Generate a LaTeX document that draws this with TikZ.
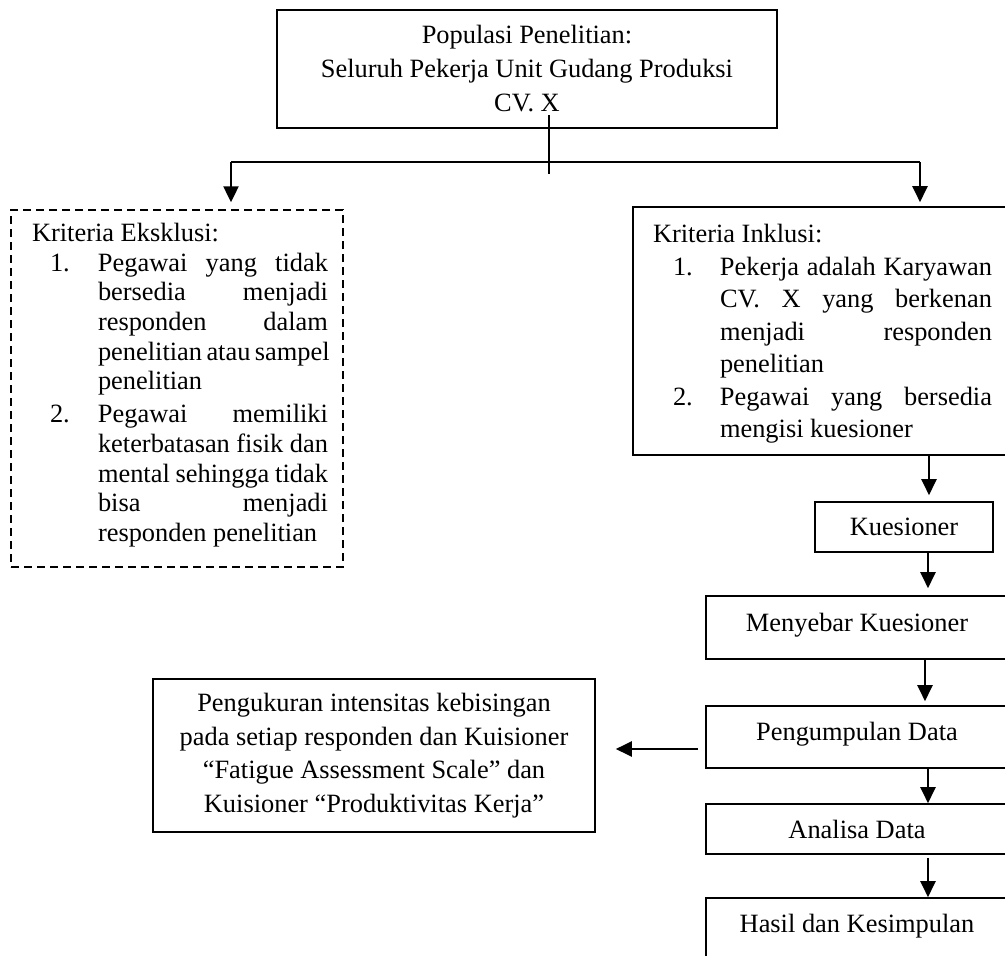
\documentclass[tikz,border=0pt]{standalone}
\usepackage{fontspec}
\setmainfont{Liberation Serif}
\usetikzlibrary{arrows.meta}
\newcommand{\jline}[2]{\makebox[#1][s]{\spaceskip=0pt\xspaceskip=0pt #2}}
\begin{document}
\begin{tikzpicture}[x=1pt,y=-1pt,
  box/.style={draw, line width=1.6pt, inner sep=0pt, font=\fontsize{26.4}{34}\selectfont},
  dashbox/.style={box, dash pattern=on 8pt off 5pt, line width=1.4pt},
  arr/.style={line width=2.2pt, -{Triangle[length=16pt,width=15pt]}},
  conn/.style={line width=1.5pt}]
\useasboundingbox (0,0) rectangle (1005,956);
\clip (0,0) rectangle (1005,956);

\node[box, minimum width=500pt, minimum height=118pt, align=center] (pop) at (527,69)
  {Populasi Penelitian:\\Seluruh Pekerja Unit Gudang Produksi\\CV.\ X};

\node[dashbox, minimum width=332pt, minimum height=357pt, text width=314pt, align=left,
  font=\fontsize{26.4}{29.7}\selectfont] (exc) at (177,388.5)
  {\spaceskip=0pt\xspaceskip=0pt
   \hspace*{12pt}Kriteria Eksklusi:\\
   \hspace*{30pt}\makebox[48pt][l]{1.}\jline{230pt}{Pegawai yang tidak}\\
   \hspace*{78pt}\jline{230pt}{bersedia menjadi}\\
   \hspace*{78pt}\jline{230pt}{responden dalam}\\
   \hspace*{78pt}\jline{230pt}{penelitian atau sampel}\\
   \hspace*{78pt}penelitian\\[3pt]
   \hspace*{30pt}\makebox[48pt][l]{2.}\jline{230pt}{Pegawai memiliki}\\
   \hspace*{78pt}\jline{230pt}{keterbatasan fisik dan}\\
   \hspace*{78pt}\jline{230pt}{mental sehingga tidak}\\
   \hspace*{78pt}\jline{230pt}{bisa menjadi}\\
   \hspace*{78pt}responden penelitian\rule[-12.5pt]{0pt}{1pt}};

\node[box, minimum width=379pt, minimum height=248pt, text width=339pt, align=left,
  font=\fontsize{26.4}{32.5}\selectfont] (inc) at (822.5,331)
  {\spaceskip=0pt\xspaceskip=0pt
   \rule{0pt}{24pt}Kriteria Inklusi:\\
   \hspace*{20pt}\makebox[47pt][l]{1.}\jline{272pt}{Pekerja adalah Karyawan}\\
   \hspace*{67pt}\jline{272pt}{CV.\ X yang berkenan}\\
   \hspace*{67pt}\jline{272pt}{menjadi responden}\\
   \hspace*{67pt}penelitian\\
   \hspace*{20pt}\makebox[47pt][l]{2.}\jline{272pt}{Pegawai yang bersedia}\\
   \hspace*{67pt}mengisi kuesioner};

\node[box, minimum width=178pt, minimum height=50pt] (kue) at (904,527) {Kuesioner};
\node[box, minimum width=302pt, minimum height=63pt, text depth=11pt] (meny) at (857,627.5) {Menyebar Kuesioner};
\node[box, minimum width=302pt, minimum height=62pt, text depth=12pt] (peng) at (857,737) {Pengumpulan Data};
\node[box, minimum width=302pt, minimum height=50pt] (ana) at (857,829) {Analisa Data};
\node[box, minimum width=302pt, minimum height=62pt, text depth=12pt] (has) at (857,929) {Hasil dan Kesimpulan};

\node[box, minimum width=442pt, minimum height=153pt, align=center,
  font=\fontsize{26.4}{33.5}\selectfont] (ukur) at (374,755.5)
  {Pengukuran intensitas kebisingan\\pada setiap responden dan Kuisioner\\“Fatigue Assessment Scale” dan\\Kuisioner “Produktivitas Kerja”};

% top split
\coordinate (vtop) at (549,115);
\coordinate (vbot) at (549,174);
\coordinate (hl) at (231,162);
\coordinate (hr) at (920,162);
\draw[conn] (vtop) -- (vbot);
\draw[conn] (hl) -- (hr);
\draw[arr, shorten >=7pt] (hl) -- (hl |- exc.north);
\draw[arr, shorten >=4pt] (hr) -- (hr |- inc.north);

% right column
\coordinate (c1) at (929,0);
\coordinate (c2) at (928,0);
\coordinate (c3) at (925,0);
\draw[arr, shorten >=6pt] (inc.south -| c1) -- (kue.north -| c1);
\draw[arr, shorten >=7pt] (kue.south -| c2) -- (meny.north -| c2);
\draw[arr, shorten >=4pt] (meny.south -| c3) -- (peng.north -| c3);
\draw[arr] (peng.south -| c2) -- (ana.north -| c2);
\draw[arr, shorten <=3pt] (ana.south -| c2) -- (has.north -| c2);

% to measurement box
\coordinate (cy) at (0,749);
\draw[arr, shorten <=7pt, shorten >=20pt] (peng.west |- cy) -- (ukur.east |- cy);
\end{tikzpicture}
\end{document}
